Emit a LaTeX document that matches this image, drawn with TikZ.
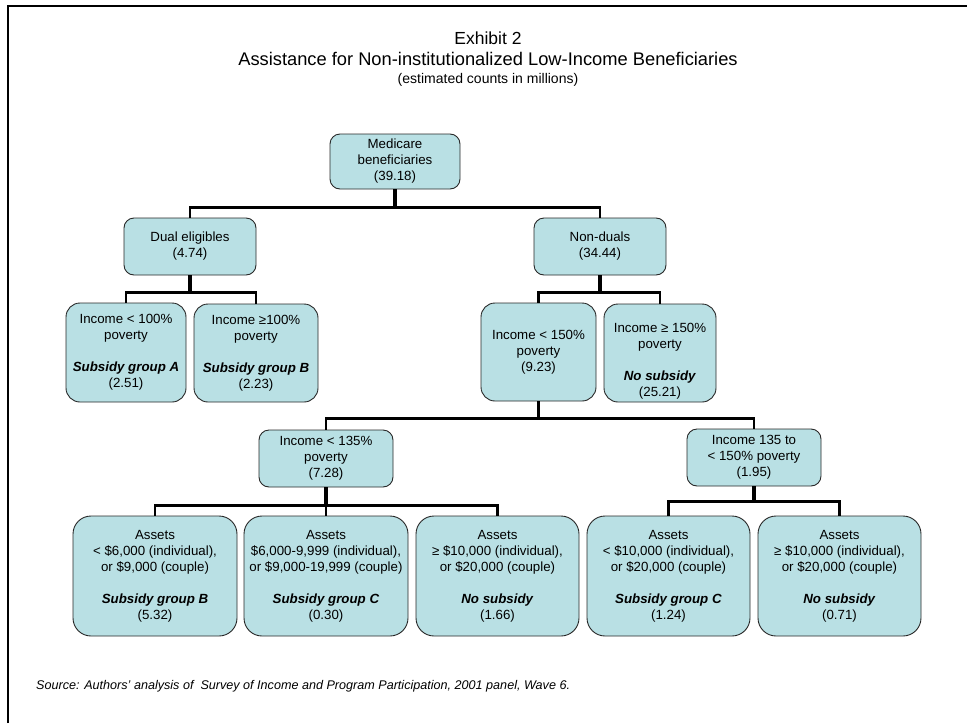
\documentclass[tikz,border=0pt]{standalone}
\usepackage{fontspec}
\setmainfont{Liberation Sans}
\definecolor{boxfill}{RGB}{185,224,228}
\definecolor{boxline}{RGB}{40,40,40}
\begin{document}
\begin{tikzpicture}[x=1pt,y=-1pt,
  box/.style={draw=boxline,line width=0.9pt,fill=boxfill,rounded corners=#1,inner sep=0pt,align=center,
    font=\fontsize{13.3}{16}\selectfont},
  box/.default=10pt,
  conn/.style={line width=2.6pt,black},
  stem/.style={line width=3.6pt,black},
  ttl/.style={inner sep=0pt,align=center}]
\useasboundingbox (0,0) rectangle (977,723);
% frame (left and top edges)
\draw[line width=2pt] (7.5,723) -- (7.5,5.5) -- (967,5.5);
% titles
\node[ttl,font=\fontsize{17.5}{20}\selectfont] (t1) at (488,38) {Exhibit 2};
\node[ttl,font=\fontsize{18.3}{20}\selectfont] (t2) at (488,59) {Assistance for Non-institutionalized Low-Income Beneficiaries};
\node[ttl,font=\fontsize{14}{16}\selectfont] (t3) at (488,80) {(estimated counts in millions)};
% boxes
\node[box,minimum width=130pt,minimum height=55pt] (med) at (395,161.5) {Medicare\\beneficiaries\\(39.18)};
\node[box,minimum width=132pt,minimum height=57pt] (dual) at (190,246.5) {Dual eligibles\\(4.74)};
\node[box,minimum width=132pt,minimum height=57pt] (nond) at (600,246.5) {Non-duals\\(34.44)};
\node[box=14pt,minimum width=120pt,minimum height=99pt] (i100) at (126,352.5) {Income < 100\%\\poverty\\[16pt]\textbf{\textit{Subsidy group A}}\\(2.51)};
\node[box=14pt,minimum width=124pt,minimum height=98pt] (ge100) at (256,353) {Income ≥100\%\\poverty\\[16pt]\textbf{\textit{Subsidy group B}}\\(2.23)};
\node[box=14pt,minimum width=115pt,minimum height=98pt] (lt150) at (538.5,352) {Income < 150\%\\poverty\\(9.23)};
\node[box=14pt,minimum width=112pt,minimum height=98pt] (ge150) at (660,353) {};
\node[inner sep=0pt,align=center,font=\fontsize{13.3}{16}\selectfont] (ge150t) at (660,361.5) {Income ≥ 150\%\\poverty\\[16pt]\textbf{\textit{No subsidy}}\\(25.21)};
\node[box,minimum width=134pt,minimum height=57pt] (lt135) at (326,458.5) {Income < 135\%\\poverty\\(7.28)};
\node[box,minimum width=134pt,minimum height=57pt] (r135) at (754,457.5) {Income 135 to\\< 150\% poverty\\(1.95)};
\node[box=18pt,minimum width=164pt,minimum height=120pt] (a1) at (155,576) {Assets\\< \$6,000 (individual),\\or \$9,000 (couple)\\[16pt]\textbf{\textit{Subsidy group B}}\\(5.32)};
\node[box=18pt,minimum width=164pt,minimum height=120pt] (a2) at (326,576) {Assets\\\$6,000-9,999 (individual),\\or \$9,000-19,999 (couple)\\[16pt]\textbf{\textit{Subsidy group C}}\\(0.30)};
\node[box=18pt,minimum width=163pt,minimum height=120pt] (a3) at (497.5,576) {Assets\\≥ \$10,000 (individual),\\or \$20,000 (couple)\\[16pt]\textbf{\textit{No subsidy}}\\(1.66)};
\node[box=18pt,minimum width=163pt,minimum height=120pt] (a4) at (668.5,576) {Assets\\< \$10,000 (individual),\\or \$20,000 (couple)\\[16pt]\textbf{\textit{Subsidy group C}}\\(1.24)};
\node[box=18pt,minimum width=163pt,minimum height=120pt] (a5) at (839.5,576) {Assets\\≥ \$10,000 (individual),\\or \$20,000 (couple)\\[16pt]\textbf{\textit{No subsidy}}\\(0.71)};
% connectors
\draw[conn] (med.south) -- ++(0,18) -| (dual.north);
\draw[conn] (med.south) -- ++(0,18) -| (nond.north);
\draw[stem] (med.south) -- ++(0,18);
\draw[conn] (dual.south) -- ++(0,17) -| (i100.north);
\draw[conn] (dual.south) -- ++(0,17) -| (ge100.north);
\draw[stem] (dual.south) -- ++(0,17);
\draw[conn] (nond.south) -- ++(0,17) -| (lt150.north);
\draw[conn] (nond.south) -- ++(0,17) -| (ge150.north);
\draw[stem] (nond.south) -- ++(0,17);
\draw[conn] (lt150.south) -- ++(0,17) -| (lt135.north);
\draw[conn] (lt150.south) -- ++(0,17) -| (r135.north);
\draw[stem] (lt150.south) -- ++(0,17);
\draw[conn] (lt135.south) -- ++(0,18) -| (a1.north);
\draw[conn] (lt135.south) -- ++(0,18) -| (a3.north);
\draw[conn] (lt135.south) -- (a2.north);
\draw[stem] (lt135.south) -- ++(0,18);
\draw[conn] (r135.south) -- ++(0,15) -| (a4.north);
\draw[conn] (r135.south) -- ++(0,15) -| (a5.north);
\draw[stem] (r135.south) -- ++(0,15);
% source
\node[anchor=west,inner sep=0pt,font=\fontsize{12.6}{14}\selectfont\itshape] (src) at (36,686) {Source: Authors’ analysis of\ \ Survey of Income and Program Participation, 2001 panel, Wave 6.};
\end{tikzpicture}
\end{document}
